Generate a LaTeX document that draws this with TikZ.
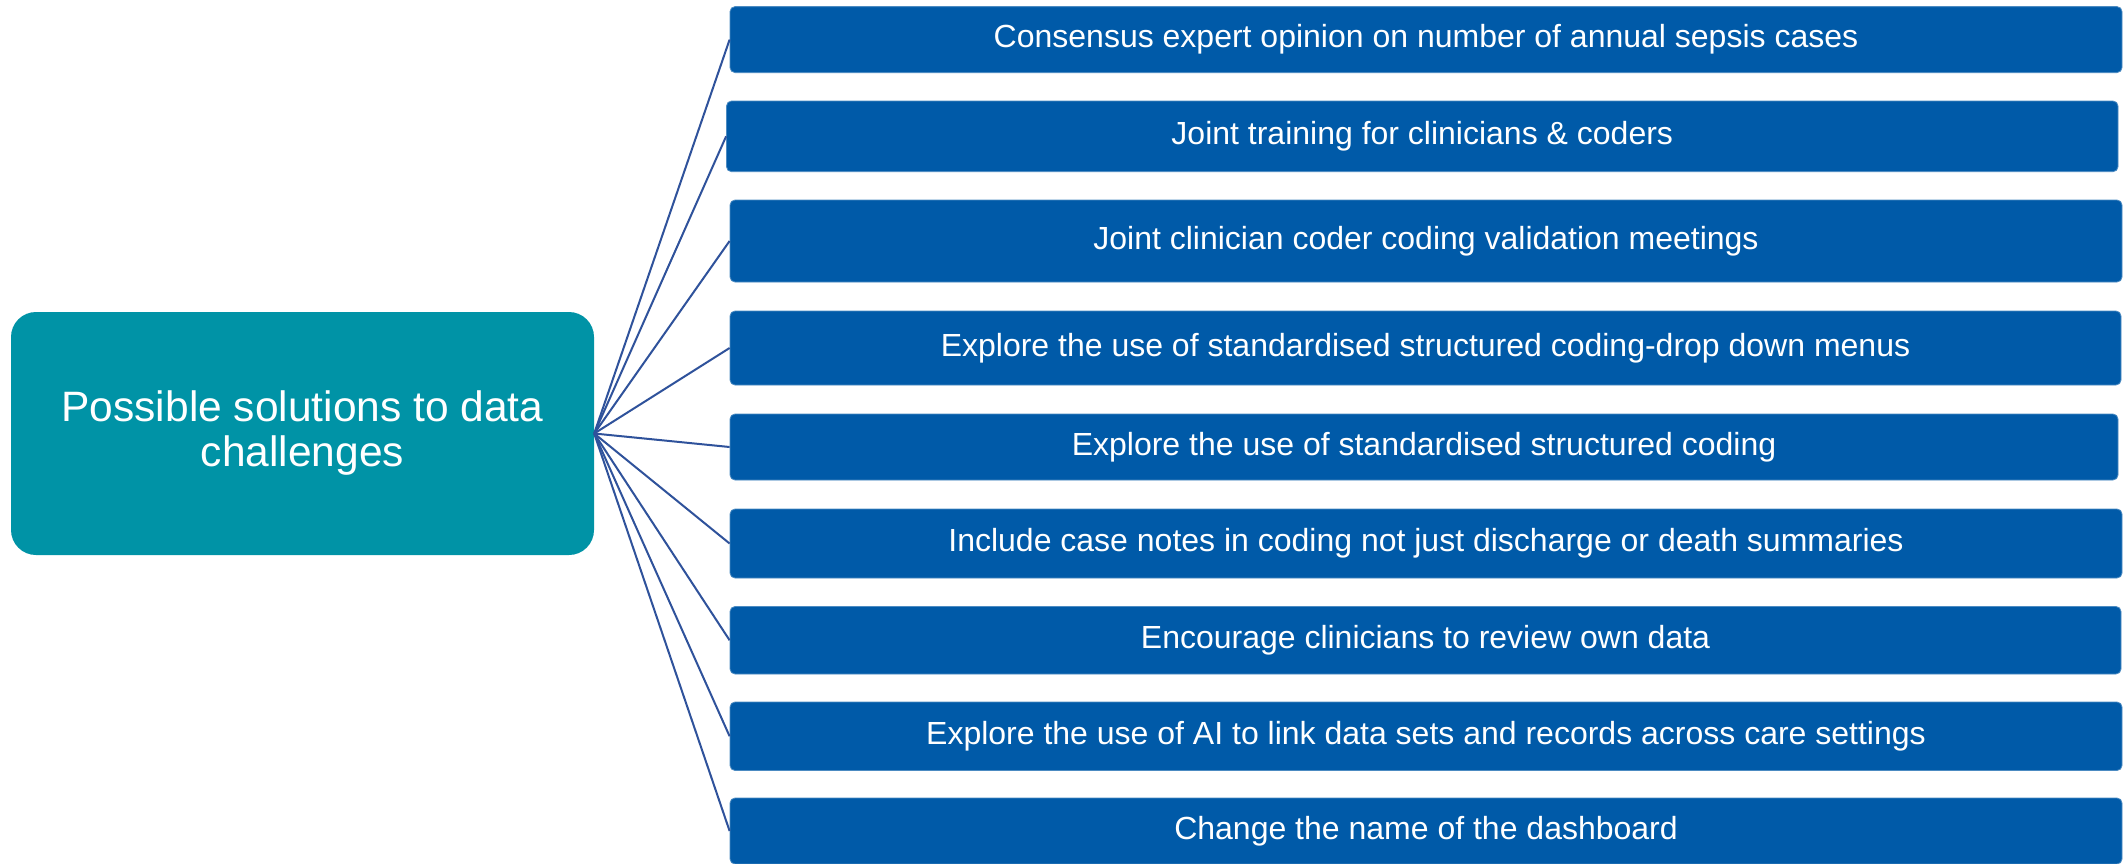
\documentclass[tikz,border=0pt]{standalone}
\usepackage{fontspec}
\setmainfont{Liberation Sans}
\definecolor{boxblue}{RGB}{0,90,168}
\definecolor{teal}{RGB}{0,147,166}
\definecolor{linkblue}{RGB}{47,82,155}
\begin{document}
\begin{tikzpicture}[x=1pt,y=-1pt,
  sbox/.style={rectangle, rounded corners=5pt, fill=boxblue, draw=boxblue!70!white, line width=0.8pt,
    inner sep=0pt, text=white, font=\fontsize{32}{38}\selectfont, anchor=center},
  cbox/.style={rectangle, rounded corners=25pt, fill=teal, inner sep=0pt, text=white,
    align=center, font=\fontsize{42.5}{45}\selectfont},
  conn/.style={draw=linkblue, line width=2pt}]
\useasboundingbox (0,0) rectangle (2123,863);
\fill[white] (0,0) rectangle (2123,863);
\node[cbox, minimum width=583pt, minimum height=243pt] (c) at (302.5,433.5)
  {Possible solutions to data\\challenges};
\node[sbox, minimum width=1392pt, minimum height=66pt] (b1) at (1426,39.6)
  {Consensus expert opinion on number of annual sepsis cases};
\node[sbox, minimum width=1391.5pt, minimum height=70.7pt] (b2) at (1422.25,136.35)
  {Joint training for clinicians \& coders};
\node[sbox, minimum width=1392pt, minimum height=82pt] (b3) at (1426,241)
  {Joint clinician coder coding validation meetings};
\node[sbox, minimum width=1391pt, minimum height=74pt] (b4) at (1425.5,348)
  {Explore the use of standardised structured coding-drop down menus};
\node[sbox, minimum width=1388pt, minimum height=66pt] (b5) at (1424,447)
  {Explore the use of standardised structured coding};
\node[sbox, minimum width=1392pt, minimum height=69pt] (b6) at (1426,543.5)
  {Include case notes in coding not just discharge or death summaries};
\node[sbox, minimum width=1391pt, minimum height=67.5pt] (b7) at (1425.5,640.25)
  {Encourage clinicians to review own data};
\node[sbox, minimum width=1392pt, minimum height=68.5pt] (b8) at (1426,736.25)
  {Explore the use of AI to link data sets and records across care settings};
\node[sbox, minimum width=1392pt, minimum height=66pt] (b9) at (1426,831)
  {Change the name of the dashboard};
\foreach \i in {1,...,9} {
  \draw[conn] (c.east) -- (b\i.west);
}
\end{tikzpicture}
\end{document}
